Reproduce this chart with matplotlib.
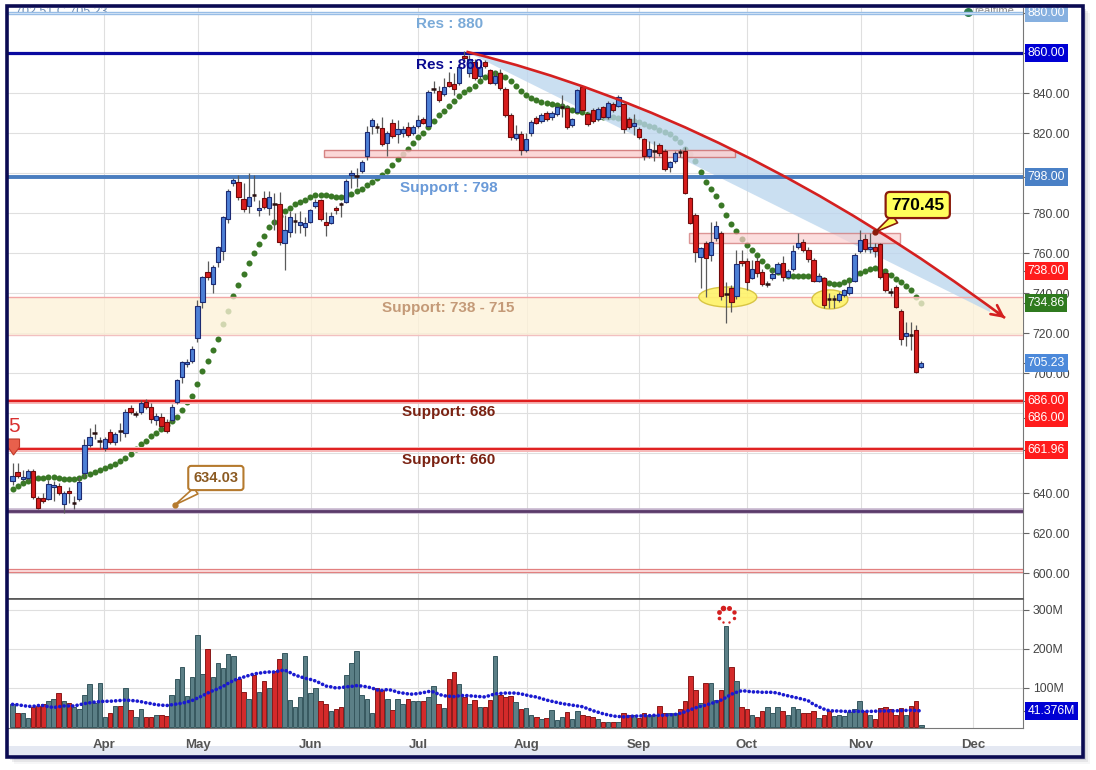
import numpy as np
import matplotlib
matplotlib.use("Agg")
import matplotlib.pyplot as plt
from matplotlib.patches import Rectangle, Ellipse, PathPatch, Polygon
from matplotlib.path import Path

plt.rcParams['font.family'] = ['Liberation Sans', 'DejaVu Sans']

# ---------------- data ----------------
months = ["Apr", "May", "Jun", "Jul", "Aug", "Sep", "Oct", "Nov", "Dec"]
month_pos = [17.8, 36.1, 58.1, 79.0, 100.2, 122.0, 143.0, 165.2, 187.1]

opens = [
    646, 650.5, 647, 647.6, 651, 637.5, 637.5, 637, 643, 643.5,
    634.5, 641, 635, 636.8, 650, 664, 669.8, 665.8, 662.5, 670.7,
    665.3, 671.2, 670, 682.5, 679.3, 680.5, 685.5, 683, 676.5, 678,
    675.5, 676.5, 685.5, 698, 704.3, 706.2, 717.3, 735.3, 750.3, 744.5,
    755.3, 761.2, 776.8, 794.8, 795.3, 786.8, 783.5, 789.2, 781.3, 787.3,
    782.3, 784.5, 784.3, 764.8, 770.5, 775.8, 773.8, 773.2, 775.7, 783.7,
    786.3, 775.7, 775.2, 782.3, 784.4, 785.7, 799, 798.5, 801.2, 808.5,
    823.7, 823, 822.3, 814.8, 824.8, 819.5, 820, 822.8, 820.2, 823.5,
    826.8, 823.5, 841.8, 841.2, 839.3, 845.7, 844.7, 844.8, 858.7, 850,
    855.7, 848.5, 855.3, 851.5, 845.2, 849.8, 841.8, 829, 817.3, 819.5,
    811.5, 819.8, 827.3, 826, 829.8, 827.8, 829.3, 832.8, 832.3, 824,
    830.7, 843.2, 829.5, 831.5, 826.8, 832.8, 827.8, 834.5, 833.5, 834.5,
    827, 823.5, 821.8, 816.8, 808.5, 810.8, 813.8, 811.2, 802.8, 805.8,
    810.4, 811.2, 787.3, 779, 757.8, 764.8, 759, 767.5, 770.2, 739.6,
    742.7, 738.5, 756, 756, 747.7, 756, 750.3, 744.3, 747.3, 750.2,
    754.8, 748.2, 751.8, 762.8, 765.5, 761.5, 756.5, 746.2, 747.3, 737.2,
    736.8, 736.5, 739, 739.8, 746, 761, 766.8, 761.8, 763.2, 764.3,
    749.8, 740.7, 743.2, 731, 718.5, 719.2, 721.5, 702.8]

highs = [
    655, 655, 651.7, 652, 652, 638.5, 640, 646.5, 646, 645,
    641, 643, 638.5, 648, 667, 672.5, 674.5, 668, 668, 672,
    670.5, 675, 682, 684, 681, 686.5, 687, 685, 680, 680,
    677, 684.5, 697, 706, 707, 713.5, 736.5, 748.5, 756, 754,
    763.5, 778.5, 792, 797.5, 799, 795, 799.8, 799, 786.5, 791.2,
    791.2, 790, 790.3, 779, 781, 779.8, 781, 778.2, 782, 787,
    787, 780.7, 780.7, 783.5, 785.7, 797, 801.5, 802.3, 806.5, 823.5,
    827.5, 825, 828.2, 821, 827, 826.5, 823.5, 825.5, 824, 829,
    828, 841.5, 846.2, 843.5, 847.3, 850.7, 850, 855, 861.2, 859,
    857, 854, 856.5, 852, 851, 852, 843, 830, 824, 821,
    820, 826.5, 828.5, 830, 831, 831, 833.5, 839, 834, 827.5,
    842, 843.8, 830, 832.5, 833, 833.5, 836, 835.5, 839, 835,
    828, 829.5, 823, 817.5, 816, 816, 815, 812, 806, 811,
    812, 813, 788, 780, 763, 766, 775.7, 776, 771, 745.7,
    744, 761.5, 761.5, 757.5, 756.5, 758, 752, 746, 751, 755.5,
    758.5, 752, 764, 769.8, 767, 763, 757.5, 750, 748, 740,
    739, 740.5, 742, 745.5, 760, 771.5, 769.5, 769.8, 765, 765,
    751, 742.5, 744, 732, 725.5, 725.7, 724, 705.9]

lows = [
    644, 647.5, 646, 646.5, 637, 632, 635, 636.5, 636, 639,
    630, 635, 632, 636, 648, 663, 667, 662, 661, 664.5,
    664, 666, 668, 679.5, 678, 679.5, 682, 675, 674, 672.5,
    670, 675.5, 684.5, 694.8, 703, 705, 715.7, 732.3, 746.5, 739.8,
    753, 756.5, 775, 793.5, 786.5, 780.5, 780.2, 786, 778.5, 782,
    779, 771.5, 764, 751.5, 768.2, 769.8, 770, 768.7, 775, 782.5,
    776, 768.7, 774.5, 779.5, 778.2, 785, 792.3, 793.2, 800, 806.5,
    819.5, 820, 813.5, 808.5, 817.5, 815, 818, 818, 819, 822.5,
    824.5, 823, 840, 835.5, 838.5, 843, 839, 844, 856, 848,
    846.5, 847, 852.5, 844.5, 844, 841.5, 828, 816.5, 816.5, 809,
    810.5, 818.5, 824.5, 825, 826, 826.5, 828.5, 828, 822, 823,
    830, 830.5, 823.5, 825, 826, 827.5, 827, 830.5, 832.8, 820,
    822, 819, 817, 806.5, 807.5, 806, 808.5, 801, 800.5, 805,
    808, 789.5, 774.5, 755.5, 742.3, 738.2, 756, 766, 736.5, 724.8,
    730.7, 737, 753.5, 741.5, 747, 748, 743.5, 743, 746.5, 749.5,
    746, 747.5, 751, 762, 760.5, 755.5, 745.5, 745.5, 732.5, 732.5,
    732.5, 735.5, 738, 739, 745.5, 760, 760.5, 760, 758, 747,
    740.5, 738.5, 732.5, 714, 713.5, 711.5, 700, 702.51]

closes = [
    648.5, 648.5, 648, 651, 638, 632.5, 636, 644.5, 644, 640,
    640, 640, 635.4, 645.6, 664, 668, 670.2, 666.2, 667, 665.7,
    669.5, 670.8, 680.5, 680.5, 679.7, 685, 683, 677, 678.5, 673.7,
    671, 683, 696.5, 705.7, 705.7, 712, 733.5, 747.8, 748.2, 753.2,
    762.8, 777.8, 791.2, 796.5, 788.2, 781.8, 788.2, 788.8, 782.3, 783.2,
    787.8, 784, 765.3, 771.5, 777.8, 776.2, 775.3, 774.8, 781.3, 785.7,
    776.8, 773.8, 778.5, 781.3, 784, 796.2, 800.2, 798.9, 805.3, 820.7,
    826.5, 822.5, 814.3, 819.8, 818.5, 821.8, 822, 818.8, 822.8, 826.7,
    825.2, 840.7, 842.2, 836.5, 843.2, 843.7, 842, 852.8, 857.3, 857,
    847.3, 852.8, 853.5, 845.2, 848.5, 842.3, 829, 817.8, 819.5, 811.5,
    817, 825.7, 825.2, 829, 826.8, 830.2, 832.8, 833.2, 822.8, 826.8,
    841.5, 831.5, 824.5, 826, 832, 828.2, 834.8, 831.5, 837.8, 821.8,
    822.8, 825.2, 817.8, 808.5, 812.2, 811.2, 809.8, 801.8, 805.3, 809.8,
    810, 790.2, 775.2, 760.5, 762.3, 757.3, 765.5, 773.5, 738.5, 740,
    735.7, 754.3, 754.8, 745.7, 751.8, 750.2, 744.3, 744.7, 749.5, 754.3,
    747.8, 751, 761, 764.8, 761.5, 756.8, 746.2, 748.7, 734, 736.8,
    737.2, 739.3, 741.5, 742.8, 759, 766.5, 761.8, 762.8, 761.2, 747.8,
    741.5, 740.3, 733.2, 716.8, 719.8, 718.8, 700.7, 705.23]

# green dotted indicator (last value 734.86)
indicator = [
    642, 643.5, 645, 646, 646.8, 647.3, 647.6, 647.8, 647.8, 647.5,
    647.2, 647, 646.8, 647.5, 648.5, 649.5, 650.5, 651.5, 652.5, 653.5,
    654.5, 655.8, 657.5, 659.7, 662, 664.3, 666.2, 668.3, 670, 671.8,
    674, 676, 678.2, 681.5, 685.5, 688.5, 694.5, 700.8, 706, 711.5,
    717, 724.5, 731, 738.5, 744, 749.5, 755, 760, 764.5, 768.5,
    772.8, 775.6, 778.6, 781, 782.5, 784.3, 785.4, 786.3, 788, 788.8,
    789, 789, 788.6, 788.1, 787.9, 788.6, 789.6, 790.8, 792, 793.8,
    795.4, 797.5, 799.2, 800.8, 804.2, 807, 809.4, 812, 814.8, 818,
    820.2, 822.8, 825.8, 828.8, 831.2, 833.7, 836.2, 838.5, 840.3, 841.8,
    843.5, 845.8, 847.9, 849.4, 849.8, 849.2, 848, 845.8, 843.7, 841,
    839.2, 837.6, 836.4, 835.6, 835.1, 834.7, 834.2, 833.4, 832.5, 831.7,
    831.1, 830.6, 829.7, 828.9, 828.1, 828, 828, 828, 827.7, 827.2,
    826.5, 826, 825.3, 824.5, 823.6, 822.8, 821.6, 820.6, 819.3, 817.7,
    815.7, 812.2, 809.7, 806.2, 800.5, 795.5, 792, 788.5, 784, 779,
    774.3, 770.8, 766.8, 764, 761.4, 759, 755.8, 753.4, 751.7, 750.6,
    749.3, 748.6, 748.5, 748.5, 748.5, 748.3, 748.2, 747.6, 746.3, 745,
    744.5, 744.7, 745.5, 746.6, 748.8, 750.2, 751.2, 751.8, 752.3, 751.5,
    751.1, 749.1, 746.8, 745.5, 743.3, 741.4, 738, 734.86]

volume_m = [
    58, 35, 35, 22, 50, 54, 59, 66, 71, 86,
    66, 62, 52, 46, 82, 109, 62, 114, 25, 37,
    55, 55, 99, 43, 25, 46, 25, 25, 30, 30,
    28, 83, 122, 155, 79, 129, 237, 137, 201, 127,
    163, 152, 186, 183, 122, 89, 73, 133, 89, 117,
    101, 144, 174, 191, 68, 51, 77, 181, 86, 101,
    66, 59, 41, 46, 50, 133, 163, 196, 82, 71,
    37, 101, 94, 71, 43, 71, 59, 71, 66, 66,
    66, 77, 105, 59, 48, 122, 140, 109, 76, 60,
    69, 51, 51, 68, 183, 83, 76, 79, 63, 46,
    48, 30, 26, 20, 23, 43, 18, 26, 38, 20,
    40, 32, 28, 25, 21, 14, 13, 14, 14, 35,
    31, 32, 23, 37, 30, 32, 55, 37, 37, 37,
    45, 66, 132, 94, 62, 114, 114, 69, 94, 258,
    154, 118, 50, 45, 30, 25, 40, 50, 35, 50,
    40, 32, 52, 45, 37, 36, 42, 23, 30, 40,
    28, 30, 28, 38, 46, 66, 40, 32, 20, 49,
    52, 45, 32, 48, 30, 55, 66, 5]

volume_ma = [
    58, 57, 55, 53, 53, 55, 55, 52, 50, 52,
    54, 54, 54, 57, 60, 62, 64, 65, 66, 66,
    67, 68, 69, 68, 67, 65, 62, 60, 57, 56,
    55, 57, 59, 61, 64, 68, 74, 80, 87, 93,
    98, 104, 112, 119, 124, 128, 132, 136, 138, 140,
    141, 141, 144, 146, 140, 133, 129, 125, 122, 118,
    112, 105, 103, 100, 101, 103, 104, 106, 105, 103,
    100, 95, 94, 96, 94, 89, 87, 85, 84, 86,
    88, 91, 90, 84, 80, 79, 78, 80, 81, 80,
    79, 78, 77, 81, 85, 86, 87, 87, 87, 85,
    82, 79, 77, 73, 69, 66, 63, 60, 58, 56,
    54, 52, 47, 42, 38, 34, 31, 28, 27, 26,
    27, 28, 28, 29, 29, 30, 30, 30, 31, 32,
    35, 39, 44, 49, 53, 56, 60, 64, 69, 76,
    84, 89, 93, 92, 90, 90, 89, 89, 89, 87,
    83, 80, 77, 74, 71, 67, 58, 52, 46, 42,
    41, 41, 40, 40, 40, 40, 40, 40, 40.5, 41,
    41, 41, 41.5, 42, 42.5, 43, 42, 41.376]

n = len(closes)
for arr in (opens, highs, lows, indicator, volume_m, volume_ma):
    assert len(arr) == n, len(arr)

# level lines / labels
res_880, res_860, sup_798 = 880, 860, 798
band_top, band_bot = 738, 719
sup_686, sup_662 = 686, 661.96
line_634 = 631
line_600 = (600.3, 602.2)

price_plain_ticks = [600, 620, 640, 700, 720, 740, 760, 780, 820, 840]
# (value, display position, colour)
price_tags = [(880.00, 880, '#86b0e0'), (860.00, 860, '#0000d4'),
              (798.00, 798, '#4a80c6'), (738.00, 751, '#ff1c1c'),
              (734.86, 735, '#2f7a1f'), (705.23, 705, '#4c89da'),
              (686.00, 686, '#ff1c1c'), (686.00, 677.5, '#ff1c1c'),
              (661.96, 661.5, '#ff1c1c')]

# trend curve (start, control, end) in (bar index, price)
trend_p0 = (88.4, 860.65)
trend_c = (140.8, 827.8)
trend_p2 = (193.3, 727.5)

# ---------------- figure ----------------
W, H = 1096, 770
fig = plt.figure(figsize=(W / 100, H / 100), dpi=100)
fig.patch.set_facecolor('white')


def frect(x0, y0, x1, y1):
    return [x0 / W, 1 - y1 / H, (x1 - x0) / W, (y1 - y0) / H]


# shadow, interior, frame
for k, a in enumerate([0.16, 0.10, 0.05]):
    r = frect(10 + 2 * k, 9 + 2 * k, 1086 + 2 * k, 760 + 2 * k)
    fig.patches.append(Rectangle((r[0], r[1]), r[2], r[3], transform=fig.transFigure,
                                 fc='#5a5a6a', ec='none', alpha=a, zorder=-4))
r = frect(7, 6, 1083, 757)
fig.patches.append(Rectangle((r[0], r[1]), r[2], r[3], transform=fig.transFigure,
                             fc='white', ec='none', zorder=-3))
r = frect(9, 746, 1081, 756)
fig.patches.append(Rectangle((r[0], r[1]), r[2], r[3], transform=fig.transFigure,
                             fc='#e4e8f2', ec='none', zorder=-2))
r = frect(7, 6, 1083, 757)
fig.patches.append(Rectangle((r[0], r[1]), r[2], r[3], transform=fig.transFigure,
                             fill=False, ec='#0b0b52', lw=2.6, zorder=30))

axp = fig.add_axes(frect(8, 8, 1023, 599))
axv = fig.add_axes(frect(8, 599, 1023, 728), sharex=axp)
XL = (-0.88, 196.8)
axp.set_xlim(*XL)
axp.set_ylim(587, 882.5)
axv.set_ylim(-2.6, 328.2)

GRID = '#dfdfdf'
for y in range(600, 881, 20):
    axp.axhline(y, color=GRID, lw=0.8, zorder=0.5)
for m in month_pos:
    axp.axvline(m, color=GRID, lw=0.8, zorder=0.5)
    axv.axvline(m, color=GRID, lw=0.8, zorder=0.5)
for y in (100, 200, 300):
    axv.axhline(y, color=GRID, lw=0.8, zorder=0.5)

x = np.arange(n)
o = np.array(opens, float)
h = np.array(highs, float)
lo = np.array(lows, float)
c = np.array(closes, float)
up = c >= o
doji = np.abs(c - o) < 0.6

# indicator dots
axp.scatter(x, indicator, s=19, color='#3a7826', lw=0, zorder=2)

# support band 738-715
axp.axhspan(band_bot, band_top, fc='#fdf2d8', alpha=0.78, lw=0, zorder=3)
axp.axhline(band_top, color='#f2a6a6', lw=1.0, zorder=3.2)
axp.axhline(band_bot, color='#f2c0c0', lw=1.0, zorder=3.2)


# blue wedge under the trend curve
def bez(t):
    x0, y0 = trend_p0
    cx, cy = trend_c
    x2, y2 = trend_p2
    return ((1 - t) ** 2 * x0 + 2 * t * (1 - t) * cx + t ** 2 * x2,
            (1 - t) ** 2 * y0 + 2 * t * (1 - t) * cy + t ** 2 * y2)


tw = 0.972
q1 = (trend_p0[0] + tw * (trend_c[0] - trend_p0[0]), trend_p0[1] + tw * (trend_c[1] - trend_p0[1]))
q2 = bez(tw)
wedge_tip = (q2[0], 730.5)
wpath = Path([trend_p0, q1, q2, wedge_tip, trend_p0],
             [Path.MOVETO, Path.CURVE3, Path.CURVE3, Path.LINETO, Path.CLOSEPOLY])
axp.add_patch(PathPatch(wpath, fc='#bcd6ee', ec='none', alpha=0.78, zorder=3))

# horizontal level lines
axp.axhspan(879.6, 880.6, fc='#f2f7fd', ec='#98bde6', lw=1.0, zorder=3.5)
axp.axhline(res_860, color='#0a0aa0', lw=2.3, zorder=3.5)
axp.axhline(sup_798, color='#4a7dbf', lw=2.8, zorder=3.5)
axp.axhline(sup_686, color='#f6b8b8', lw=3.6, zorder=3.5)
axp.axhline(sup_686, color='#e01e1e', lw=1.6, zorder=3.6)
axp.axhline(sup_662, color='#f6b8b8', lw=3.6, zorder=3.5)
axp.axhline(sup_662, color='#e01e1e', lw=1.4, zorder=3.6)
axp.axhline(line_634, color='#c4b4cc', lw=4.0, zorder=3.5)
axp.axhline(line_634, color='#5a3a6a', lw=2.0, zorder=3.6)
axp.axhspan(line_600[0], line_600[1], fc='#fde2e2', ec='#e28080', lw=0.9, zorder=3.5)

# pink zones
axp.add_patch(Rectangle((60.7, 807.9), 80.0, 3.6, fc='#fbd0d0', ec='#cf7070',
                        lw=1.0, alpha=0.85, zorder=4))
axp.add_patch(Rectangle((131.7, 764.8), 41.1, 5.0, fc='#fbd0d0', ec='#cf7070',
                        lw=1.0, alpha=0.7, zorder=4))

# yellow ellipses
axp.add_patch(Ellipse((139.3, 738.0), 11.3, 10.0, fc='#fff36a', ec='#d4c03a',
                      lw=1.0, alpha=0.9, zorder=4))
axp.add_patch(Ellipse((159.2, 736.8), 7.0, 9.5, fc='#fff36a', ec='#d4c03a',
                      lw=1.0, alpha=0.9, zorder=4))

# candles
axp.vlines(x, lo, h, color='#5a5a5a', lw=0.9, zorder=5)
body = np.where(doji, 0.0, c - o)
fcol = np.where(up, '#4d7fd6', '#d81c1c')
ecol = np.where(up, '#1c2a72', '#700a0a')
nd = ~doji
axp.bar(x[nd], body[nd], bottom=o[nd], width=0.84, color=fcol[nd], edgecolor=ecol[nd],
        lw=0.8, zorder=6)
axp.hlines(o[doji], x[doji] - 0.45, x[doji] + 0.45, color='#2a1010', lw=1.8, zorder=6)

# trend curve with arrow
tpath = Path([trend_p0, trend_c, trend_p2], [Path.MOVETO, Path.CURVE3, Path.CURVE3])
axp.add_patch(PathPatch(tpath, fc='none', ec='#d42020', lw=1.9, zorder=7))
pre = bez(0.985)
axp.annotate('', xy=trend_p2, xytext=pre,
             arrowprops=dict(arrowstyle='->', color='#d42020', lw=1.9,
                             mutation_scale=20, shrinkA=0, shrinkB=0), zorder=7)

# level labels
lab_kw = dict(ha='center', va='center', fontsize=11, fontweight='bold', zorder=8)
axp.text(85.2, 874.5, 'Res : 880', color='#7aaad8', **lab_kw)
axp.text(85.2, 854.0, 'Res : 860', color='#0a0a90', **lab_kw)
axp.text(85.0, 792.5, 'Support : 798', color='#6a9ad8', **lab_kw)
axp.text(84.8, 732.5, 'Support: 738 - 715', color='#c49a78', **lab_kw)
axp.text(85.0, 680.5, 'Support: 686', color='#7a2212', **lab_kw)
axp.text(85.0, 656.5, 'Support: 660', color='#7a2212', **lab_kw)

# top strings
axp.text(0.45, 880.3, '702.51 C 705.23', color='#6c8cb4', fontsize=9, ha='left',
         va='center', zorder=3, clip_on=True)
axp.scatter([186.0], [880.6], s=30, color='#2e7d4f', zorder=3)
axp.text(187.3, 880.8, 'realtime', color='#8a8a8a', fontsize=8, ha='left', va='center',
         zorder=3)

# cut label "5" and red marker at left
axp.text(-0.85, 673.0, '5', color='#d83030', fontsize=15, ha='left', va='center', zorder=8)
px2 = lambda px, py: ((px - 12.5) / 5.135, 880 - (py - 13) / 2)
axp.add_patch(Polygon([px2(8, 439), px2(19.5, 439), px2(19.5, 447), px2(13.5, 455),
                       px2(8, 447)], closed=True, fc='#e8604c', ec='#c03a2a', lw=0.8,
                      zorder=8, clip_on=False))

# callouts
axp.annotate('770.45', xy=(168.0, 770.45), xytext=(176.3, 784.0), ha='center', va='center',
             fontsize=12.5, fontweight='bold', color='black', zorder=9,
             bbox=dict(boxstyle='round,pad=0.32,rounding_size=0.25', fc='#ffff5c',
                       ec='#8a1c0c', lw=1.6),
             arrowprops=dict(arrowstyle='wedge,tail_width=0.55,shrink_factor=0.5',
                             fc='#ffff5c', ec='#8a1c0c', lw=1.2, relpos=(0.25, 0.0),
                             shrinkA=0, shrinkB=0))
axp.plot([168.0], [770.45], 'o', ms=3.5, color='#8a1c0c', zorder=9)
axp.annotate('634.03', xy=(31.6, 634.03), xytext=(39.6, 647.5), ha='center', va='center',
             fontsize=10.5, fontweight='bold', color='#8b5a22', zorder=9,
             bbox=dict(boxstyle='round,pad=0.35,rounding_size=0.2', fc='white',
                       ec='#b57a2e', lw=1.5),
             arrowprops=dict(arrowstyle='wedge,tail_width=0.5,shrink_factor=0.5',
                             fc='white', ec='#b57a2e', lw=1.2, relpos=(0.25, 0.0),
                             shrinkA=0, shrinkB=0))
axp.plot([31.6], [634.03], 'o', ms=3.5, color='#b57a2e', zorder=9)

# price axis ticks / labels
tick_vals = price_plain_ticks + [p for _, p, _ in price_tags]
tick_labs = ['%.2f' % v for v in price_plain_ticks] + ['' for _ in price_tags]
axp.yaxis.tick_right()
axp.set_yticks(tick_vals)
axp.set_yticklabels(tick_labs)
axp.tick_params(axis='y', direction='out', length=4, width=0.8, colors='#666666',
                labelcolor='#444444', labelsize=8.8, pad=3)
axp.tick_params(axis='x', length=0, labelbottom=False)
for s in ('left', 'top'):
    axp.spines[s].set_visible(False)
axp.spines['right'].set_color('#777777')
axp.spines['bottom'].set_color('#555555')
axp.spines['bottom'].set_linewidth(1.2)

ytr = axp.get_yaxis_transform()
for val, pos, col in price_tags:
    axp.text(1.0045, pos, '%.2f' % val, transform=ytr, ha='left', va='center',
             fontsize=8.8, color='white', clip_on=False, zorder=12,
             bbox=dict(boxstyle='square,pad=0.22', fc=col, ec='none'))

# ---------------- volume panel ----------------
vcol = np.where(up, '#5b7f86', '#d42a2a')
vedge = np.where(up, '#36575e', '#8a1a1a')
axv.bar(x, volume_m, width=0.88, color=vcol, edgecolor=vedge, lw=0.7, zorder=3)
axv.plot(x, volume_ma, color='#1a1ad0', lw=2.6, linestyle=(0, (0.05, 1.15)),
         dash_capstyle='round', zorder=4)

# dotted spinner above the volume spike
spk_x, spk_y = 139.0, 287.0
rx, ry = 8 / 5.135, 8 / 0.39
sizes = [16, 13, 10, 6, 3, 3, 7, 12]
for k, sz in enumerate(sizes):
    ang = np.pi / 2 - 2 * np.pi * k / len(sizes) + 0.4
    axv.scatter([spk_x + rx * np.cos(ang)], [spk_y + ry * np.sin(ang)], s=sz,
                color='#d42020', lw=0, zorder=6, clip_on=False)

axv.yaxis.tick_right()
axv.set_yticks([100, 200, 300, 41.376])
axv.set_yticklabels(['100M', '200M', '300M', ''])
axv.tick_params(axis='y', direction='out', length=4, width=0.8, colors='#666666',
                labelcolor='#444444', labelsize=8.8, pad=3)
axv.set_xticks(month_pos)
axv.set_xticklabels(months, fontsize=9.5, fontweight='bold', color='#555555')
axv.tick_params(axis='x', length=0, pad=8)
axv.spines['left'].set_visible(False)
axv.spines['top'].set_color('#555555')
axv.spines['top'].set_linewidth(1.2)
axv.spines['bottom'].set_color('#777777')
axv.spines['right'].set_color('#777777')
axv.text(1.0045, 41.376, '41.376M', transform=axv.get_yaxis_transform(), ha='left',
         va='center', fontsize=8.8, color='white', clip_on=False, zorder=12,
         bbox=dict(boxstyle='square,pad=0.22', fc='#0000d4', ec='none'))
axv.set_xlim(*XL)

fig.savefig('out.png', dpi=100, facecolor='white')
